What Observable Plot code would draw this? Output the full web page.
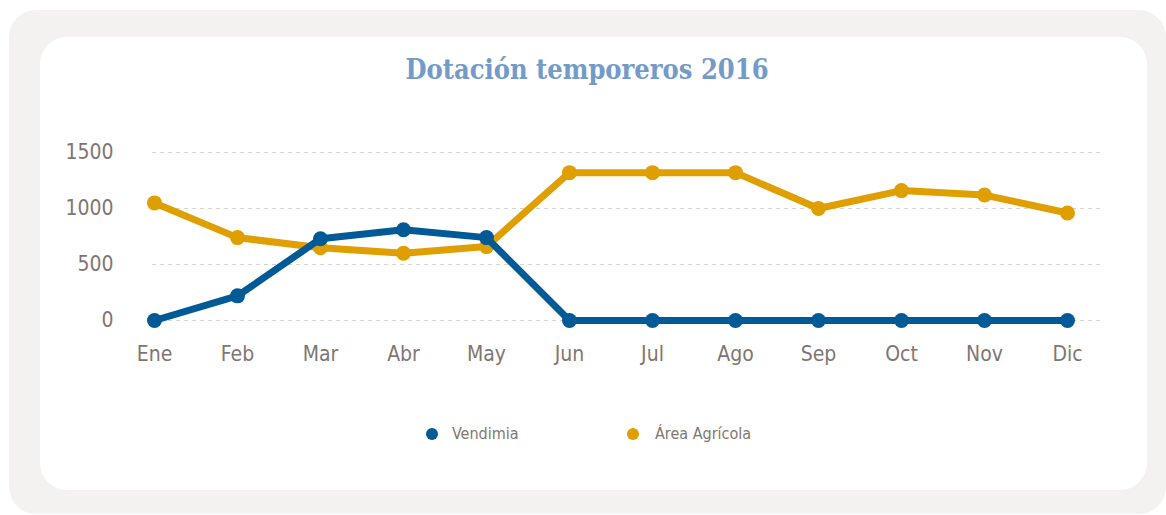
<!DOCTYPE html>
<html>
<head>
<meta charset="utf-8">
<script src="https://cdn.jsdelivr.net/npm/d3@7"></script>
<script src="https://cdn.jsdelivr.net/npm/@observablehq/plot@0.6"></script>
<style>
  html, body { margin: 0; padding: 0; background: #ffffff; width: 1166px; height: 515px; overflow: hidden; }
  #outer { position: absolute; left: 9px; top: 10px; width: 1157px; height: 504px; background: #f3f2f0; border-radius: 27px; }
  #panel { position: absolute; left: 40px; top: 37px; width: 1107px; height: 453px; background: #ffffff; border-radius: 27px; }
  #title { position: absolute; left: 0; top: 55px; width: 1174px; text-align: center; font-family: "DejaVu Serif Condensed", "DejaVu Serif", serif; font-stretch: condensed; font-weight: 900; font-size: 27px; line-height: 30px; color: #739bca; }
  #chart { position: absolute; left: 0; top: 0; }
  .leg { position: absolute; top: 424px; font-family: "DejaVu Sans Condensed", "DejaVu Sans", sans-serif; font-stretch: condensed; font-size: 16px; line-height: 20px; color: #7f7671; }
  .leg .sw { position: absolute; top: 4px; width: 12px; height: 12px; border-radius: 50%; }
</style>
</head>
<body>
<div id="outer"></div>
<div id="panel"></div>
<div id="title">Dotación temporeros 2016</div>
<div id="chart"></div>
<div id="legend"></div>
<script>
const months = ["Ene", "Feb", "Mar", "Abr", "May", "Jun", "Jul", "Ago", "Sep", "Oct", "Nov", "Dic"];
const vendimia = [0, 220, 730, 810, 740, 0, 0, 0, 0, 0, 0, 0];
const areaAgricola = [1050, 740, 650, 600, 660, 1320, 1320, 1320, 1000, 1160, 1120, 960];
const yTicks = [0, 500, 1000, 1500];
const seriesNames = ["Vendimia", "Área Agrícola"];
const seriesColors = ["#005a96", "#e09f00"];

const vendData = months.map((m, i) => ({month: m, value: vendimia[i]}));
const agriData = months.map((m, i) => ({month: m, value: areaAgricola[i]}));

const textColor = "#7f7671";
const font = '"DejaVu Sans Condensed", "DejaVu Sans", sans-serif';

const chart = Plot.plot({
  width: 1166,
  height: 380,
  marginLeft: 152,
  marginRight: 64,
  marginTop: 152,
  marginBottom: 60,
  style: {background: "transparent", fontFamily: font, overflow: "visible"},
  x: {type: "point", domain: months, range: [152, 1068], padding: 0},
  y: {domain: [0, 1500]},
  marks: [
    Plot.ruleY(yTicks, {stroke: "#d9d3cd", strokeWidth: 1, strokeDasharray: "4,4"}),
    Plot.axisY({ticks: yTicks, tickSize: 0, tickPadding: 39, fontSize: 21, fill: textColor, label: null, tickFormat: d => String(d)}),
    Plot.axisX({tickSize: 0, tickPadding: 26, fontSize: 21, fill: textColor, label: null}),
    Plot.line(agriData, {x: "month", y: "value", stroke: seriesColors[1], strokeWidth: 7, curve: "linear"}),
    Plot.dot(agriData, {x: "month", y: "value", fill: seriesColors[1], r: 7.5}),
    Plot.line(vendData, {x: "month", y: "value", stroke: seriesColors[0], strokeWidth: 7, curve: "linear"}),
    Plot.dot(vendData, {x: "month", y: "value", fill: seriesColors[0], r: 7.5})
  ]
});
document.getElementById("chart").appendChild(chart);

const legendPos = [{sw: 426, tx: 452}, {sw: 627, tx: 655}];
const legend = document.getElementById("legend");
seriesNames.forEach((name, i) => {
  const sw = document.createElement("div");
  sw.className = "leg";
  sw.style.left = legendPos[i].sw + "px";
  sw.innerHTML = `<span class="sw" style="left:0;background:${seriesColors[i]}"></span>`;
  legend.appendChild(sw);
  const tx = document.createElement("div");
  tx.className = "leg";
  tx.style.left = legendPos[i].tx + "px";
  tx.textContent = name;
  legend.appendChild(tx);
});
</script>
</body>
</html>
